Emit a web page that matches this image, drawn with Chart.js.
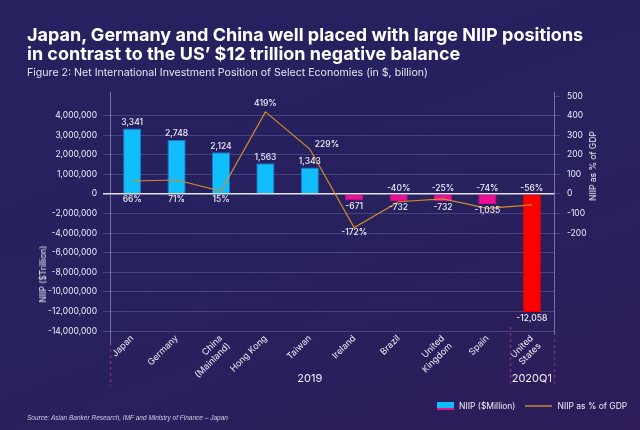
<!DOCTYPE html>
<html>
<head>
<meta charset="utf-8">
<script src="https://cdn.jsdelivr.net/npm/chart.js@4.4.1/dist/chart.umd.min.js"></script>
<style>
  html, body { margin: 0; padding: 0; }
  body {
    width: 640px; height: 430px; overflow: hidden; position: relative;
    background: linear-gradient(160deg, #25225f 0%, #27215e 55%, #2d1c59 100%);
    font-family: Inter, "Noto Sans", sans-serif; color: #fff;
  }
  #chart { position: absolute; left: 0; top: 0; }
  .title { position: absolute; left: 27px; top: 26px; font-weight: 700; font-size: 18px; line-height: 18.5px; white-space: nowrap; }
  .sub { position: absolute; left: 27px; top: 66px; font-size: 10.6px; color: #e6e3f3; white-space: nowrap; }
  .source { position: absolute; left: 27px; top: 414px; font-size: 6.5px; font-style: italic; color: #cfcbe4; font-family: "Liberation Sans", sans-serif; white-space: nowrap; }
  .axis-title { position: absolute; font-size: 8.5px; color: #f0eef8; white-space: nowrap; transform: translate(-50%, -50%) rotate(-90deg); }
  .legend { position: absolute; top: 401px; left: 437px; font-size: 8.5px; color: #f0eef8; display: flex; align-items: center; white-space: nowrap; }
  .swatch { width: 17px; height: 6px; background: #10bdfd; border-bottom: 2px solid #e8128f; margin-right: 5px; }
  .lineswatch { width: 27px; height: 2px; background: #9a7040; margin: 0 5px 0 10px; }
</style>
</head>
<body>
<canvas id="chart" width="640" height="430"></canvas>
<div class="title">Japan, Germany and China well placed with large NIIP positions<br>in contrast to the US’ $12 trillion negative balance</div>
<div class="sub">Figure 2: Net International Investment Position of Select Economies (in $, billion)</div>
<div class="axis-title" style="left:43px; top:274px;">NIIP ($Trillion)</div>
<div class="axis-title" style="left:593px; top:166px;">NIIP as % of GDP</div>
<div class="legend"><span class="swatch"></span>NIIP ($Million)<span class="lineswatch"></span>NIIP as % of GDP</div>
<div class="source">Source: Asian Banker Research, IMF and Ministry of Finance – Japan</div>
<script>
  // Data
  const countries = ["Japan", "Germany", ["China", "(Mainland)"], "Hong Kong", "Taiwan", "Ireland", "Brazil", ["United", "Kingdom"], "Spain", ["United", "States"]];
  const periods = ["2019", "2019", "2019", "2019", "2019", "2019", "2019", "2019", "2019", "2020Q1"];
  const niip = [3341000, 2748000, 2124000, 1563000, 1343000, -671000, -732000, -732000, -1035000, -12058000]; // $ million
  const niipPctGdp = [66, 71, 15, 419, 229, -172, -40, -25, -74, -56];
  const leftTicks = [4000000, 3000000, 2000000, 1000000, 0, -2000000, -4000000, -6000000, -8000000, -10000000, -12000000, -14000000];
  const rightTicks = [500, 400, 300, 200, 100, 0, -100, -200];

  const TEXT = "#efedf8";
  const GRID = "rgba(205,200,255,0.2)";
  const AXIS = "rgba(214,210,245,0.45)";
  const FONT = "Inter, 'Noto Sans', sans-serif";

  // left axis is not linear: 1M per gridline above zero, 2M per gridline below
  const POS_STEP = 1000000, NEG_STEP = 2000000;
  class SplitLinearScale extends Chart.LinearScale {
    toUnits(v) { return v >= 0 ? v / POS_STEP : v / NEG_STEP; }
    fromUnits(u) { return u >= 0 ? u * POS_STEP : u * NEG_STEP; }
    determineDataLimits() {
      this.min = this.options.min;
      this.max = this.options.max;
    }
    buildTicks() {
      this.start = this.min;
      this.end = this.max;
      return leftTicks.map(value => ({ value }));
    }
    configure() {
      super.configure();
      this._u0 = this.toUnits(this.min);
      this._u1 = this.toUnits(this.max);
    }
    getPixelForValue(v) {
      if (v === null || v === undefined) return NaN;
      return this.getPixelForDecimal((this.toUnits(v) - this._u0) / (this._u1 - this._u0));
    }
    getValueForPixel(p) {
      return this.fromUnits(this._u0 + this.getDecimalForPixel(p) * (this._u1 - this._u0));
    }
  }
  SplitLinearScale.id = "splitLinear";
  SplitLinearScale.defaults = Chart.LinearScale.defaults;
  Chart.register(SplitLinearScale);

  const barColor = (i) => periods[i] === "2020Q1" ? "#fe0000" : (niip[i] < 0 ? "#ec0f95" : "#10bdfd");
  const barEdge = (i) => periods[i] === "2020Q1" ? "#e80000" : (niip[i] < 0 ? "#d40c86" : "#1f74cc");

  // axis lines that run a bit past the plot area
  const frame = {
    id: "frame",
    beforeDatasetsDraw(chart) {
      const { ctx, chartArea: a } = chart;
      ctx.save();
      ctx.strokeStyle = AXIS;
      ctx.lineWidth = 1;
      ctx.beginPath();
      ctx.moveTo(Math.round(a.left) + 0.5, a.top - 4);
      ctx.lineTo(Math.round(a.left) + 0.5, a.bottom + 12);
      ctx.moveTo(Math.round(a.right) + 0.5, a.top - 4);
      ctx.lineTo(Math.round(a.right) + 0.5, a.bottom + 4);
      ctx.stroke();
      ctx.restore();
    }
  };

  // second level of the category axis: period labels and dashed separators
  const groups = {
    id: "groups",
    afterDraw(chart) {
      const { ctx, chartArea: a, scales: { x } } = chart;
      const step = (a.right - a.left) / countries.length;
      const runs = [];
      periods.forEach((p, i) => {
        const last = runs[runs.length - 1];
        if (last && last.p === p) last.to = i; else runs.push({ p, from: i, to: i });
      });
      ctx.save();
      ctx.setLineDash([3, 3]);
      ctx.strokeStyle = "#7a2a88";
      ctx.lineWidth = 1.5;
      [0, ...runs.map(r => r.to + 1)].forEach((k, j) => {
        const xp = Math.round(a.left + k * step) + 0.5;
        const y0 = j === 0 ? a.bottom + 12 : (k === countries.length ? a.bottom + 8 : a.bottom - 4);
        ctx.beginPath();
        ctx.moveTo(xp, y0);
        ctx.lineTo(xp, 386);
        ctx.stroke();
      });
      ctx.setLineDash([]);
      ctx.fillStyle = TEXT;
      ctx.font = "11px " + FONT;
      ctx.textAlign = "center";
      ctx.textBaseline = "middle";
      runs.forEach(r => {
        ctx.fillText(r.p, (x.getPixelForValue(r.from) + x.getPixelForValue(r.to)) / 2, 379);
      });
      ctx.restore();
    }
  };

  // value labels for bars and line
  const valueLabels = {
    id: "valueLabels",
    afterDatasetsDraw(chart) {
      const { ctx } = chart;
      const bars = chart.getDatasetMeta(0).data;
      const pts = chart.getDatasetMeta(1).data;
      const zero = chart.scales.y.getPixelForValue(0);
      ctx.save();
      ctx.fillStyle = TEXT;
      ctx.font = "500 8.5px " + FONT;
      ctx.textAlign = "center";
      bars.forEach((b, i) => {
        const txt = Math.round(niip[i] / 1000).toLocaleString("en-US");
        if (niip[i] >= 0) { ctx.textBaseline = "bottom"; ctx.fillText(txt, b.x, b.y - 2); }
        else { ctx.textBaseline = "top"; ctx.fillText(txt, b.x, b.y + 2); }
      });
      pts.forEach((p, i) => {
        const v = niipPctGdp[i];
        const txt = v + "%";
        ctx.textAlign = "center";
        if (Math.abs(v) < 100) {
          ctx.textBaseline = "middle";
          ctx.fillText(txt, p.x, niip[i] >= 0 ? zero + 6 : zero - 5);
          return;
        }
        const prev = niipPctGdp[i - 1], next = niipPctGdp[i + 1];
        if (v > prev && v > next) { ctx.textBaseline = "bottom"; ctx.fillText(txt, p.x, p.y - 4); }
        else if (v < prev && v < next) { ctx.textBaseline = "top"; ctx.fillText(txt, p.x, p.y + 1); }
        else { ctx.textAlign = "left"; ctx.textBaseline = "middle"; ctx.fillText(txt, p.x + 5, p.y - 5); }
      });
      ctx.restore();
    }
  };

  new Chart(document.getElementById("chart"), {
    data: {
      labels: countries,
      datasets: [{
        type: "bar",
        label: "NIIP ($Million)",
        data: niip,
        yAxisID: "y",
        order: 1,
        backgroundColor: (c) => barColor(c.dataIndex),
        borderColor: (c) => barEdge(c.dataIndex),
        borderWidth: 1,
        categoryPercentage: 1,
        barPercentage: 0.41
      }, {
        type: "line",
        label: "NIIP as % of GDP",
        data: niipPctGdp,
        yAxisID: "y1",
        order: 0,
        borderColor: "#d38b25",
        borderWidth: 1.2,
        pointRadius: 0,
        tension: 0
      }]
    },
    options: {
      responsive: false,
      animation: false,
      layout: { padding: { top: 96, left: 0, right: 0, bottom: 0 } },
      plugins: { legend: { display: false }, tooltip: { enabled: false } },
      scales: {
        x: {
          type: "category",
          grid: { display: false, drawTicks: false },
          border: { display: false },
          ticks: { color: TEXT, font: { family: FONT, size: 9 }, minRotation: 45, maxRotation: 45, autoSkip: false, padding: 2 },
          afterFit: (s) => { s.height = 99; }
        },
        y: {
          type: "splitLinear",
          position: "left",
          min: -14000000,
          max: 5000000,
          grid: {
            color: (c) => c.tick && c.tick.value === 0 ? "#e4e2f2" : GRID,
            lineWidth: (c) => c.tick && c.tick.value === 0 ? 1.5 : 1,
            tickLength: 7
          },
          border: { display: false },
          ticks: {
            color: TEXT, font: { family: FONT, size: 8.5 }, padding: 6,
            callback: (v) => Number(v).toLocaleString("en-US")
          },
          afterFit: (s) => { s.width = 110; }
        },
        y1: {
          type: "linear",
          position: "right",
          min: -700,
          max: 500,
          grid: { drawOnChartArea: false, color: GRID, tickLength: 6 },
          border: { display: false },
          afterBuildTicks: (s) => { s.ticks = rightTicks.map(value => ({ value })); },
          ticks: { color: TEXT, font: { family: FONT, size: 8.5 }, padding: 7 },
          afterFit: (s) => { s.width = 86; }
        }
      }
    },
    plugins: [frame, groups, valueLabels]
  });
</script>
</body>
</html>
